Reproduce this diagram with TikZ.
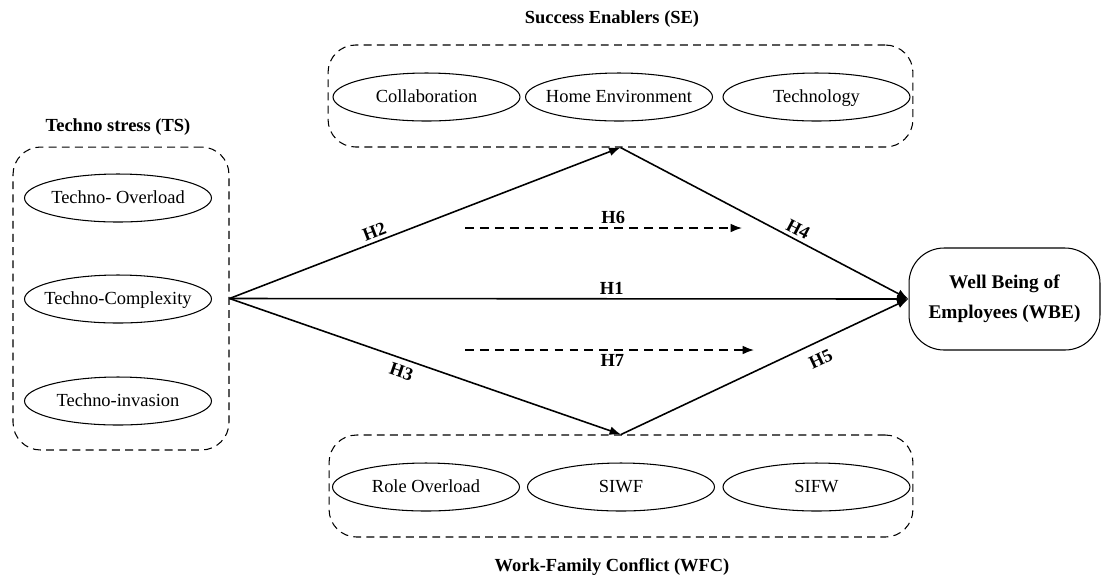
\documentclass[tikz,border=0pt]{standalone}
\usepackage{fontspec}
\setmainfont{Liberation Serif}
\usetikzlibrary{shapes.geometric,arrows.meta}
\tikzset{
  dbox/.style={draw, dash pattern=on 4.5pt off 3pt, line width=0.6pt, rounded corners=0.55cm, inner sep=0pt},
  ell/.style={draw, ellipse, line width=0.6pt, minimum width=3.74cm, minimum height=0.96cm, inner sep=0pt, text height=1.6ex, text depth=0.3ex, font=\fontsize{10.5}{12}\selectfont},
  ttl/.style={font=\fontsize{10.5}{12}\selectfont\bfseries},
  hlab/.style={font=\fontsize{10.5}{12}\selectfont\bfseries, inner sep=2pt},
  arr/.style={line width=0.9pt, -{Latex[length=6.5pt,width=5pt]}},
  darr/.style={line width=0.9pt, dash pattern=on 5pt off 3.5pt, -{Latex[length=6.5pt,width=5pt]}},
  wbe/.style={draw, line width=0.6pt, rounded corners=0.7cm, minimum width=3.82cm, minimum height=2.04cm, align=center, font=\fontsize{11}{17}\selectfont\bfseries}
}
\newcommand{\etext}[1]{\makebox[0pt][c]{#1}}
\begin{document}
\begin{tikzpicture}[x=0.02cm, y=-0.02cm]
\useasboundingbox (0,0) rectangle (1102,583);
% group boxes
\node[dbox, minimum width=4.32cm, minimum height=6.06cm] (TS) at (121,298.5) {};
\node[dbox, minimum width=11.7cm, minimum height=2.04cm] (SE) at (620.5,96) {};
\node[dbox, minimum width=11.68cm, minimum height=2.04cm] (WFC) at (621,486) {};
% titles
\node[ttl] (tTS) at (118,127) {Techno stress (TS)};
\node[ttl] (tSE) at (612,19) {Success Enablers (SE)};
\node[ttl] (tWFC) at (612,567) {Work-Family Conflict (WFC)};
% TS ellipses
\node[ell] (to) at (118,198) {\etext{Techno- Overload}};
\node[ell] (tc) at (118,299) {\etext{Techno-Complexity}};
\node[ell] (ti) at (118,401) {\etext{Techno-invasion}};
% SE ellipses
\node[ell] (col) at (426.5,97) {\etext{Collaboration}};
\node[ell] (home) at (619,97) {\etext{Home Environment}};
\node[ell] (tech) at (816.5,97) {\etext{Technology}};
% WFC ellipses
\node[ell] (ro) at (426,487) {\etext{Role Overload}};
\node[ell] (siwf) at (621,487) {\etext{SIWF}};
\node[ell] (sifw) at (816.5,487) {\etext{SIFW}};
% WBE
\node[wbe] (WBE) at (1004.5,299) {Well Being of\\Employees (WBE)};
% connectors
\draw[arr] (TS.east) -- node[hlab, above, sloped, pos=0.38] {H2} (SE.south);
\draw[arr] (TS.east) -- node[hlab, below, sloped, pos=0.45, inner sep=3.5pt] {H3} (WFC.north);
\draw[arr] (TS.east) -- node[hlab, above, pos=0.563] {H1} (WBE.west);
\draw[arr] (SE.south) -- node[hlab, above, sloped, pos=0.6, inner sep=2pt] {H4} (WBE.west);
\draw[arr] (WFC.north) -- node[hlab, below, sloped, pos=0.67, inner sep=5.5pt] {H5} (WBE.west);
% dashed mediation arrows
\coordinate (h6a) at (465,228);
\coordinate (h6b) at (742,228);
\coordinate (h7a) at (465,350);
\coordinate (h7b) at (754,350);
\draw[darr] (h6a) -- node[hlab, above, pos=0.535] {H6} (h6b);
\draw[darr] (h7a) -- node[hlab, below, pos=0.51] {H7} (h7b);
\end{tikzpicture}
\end{document}
